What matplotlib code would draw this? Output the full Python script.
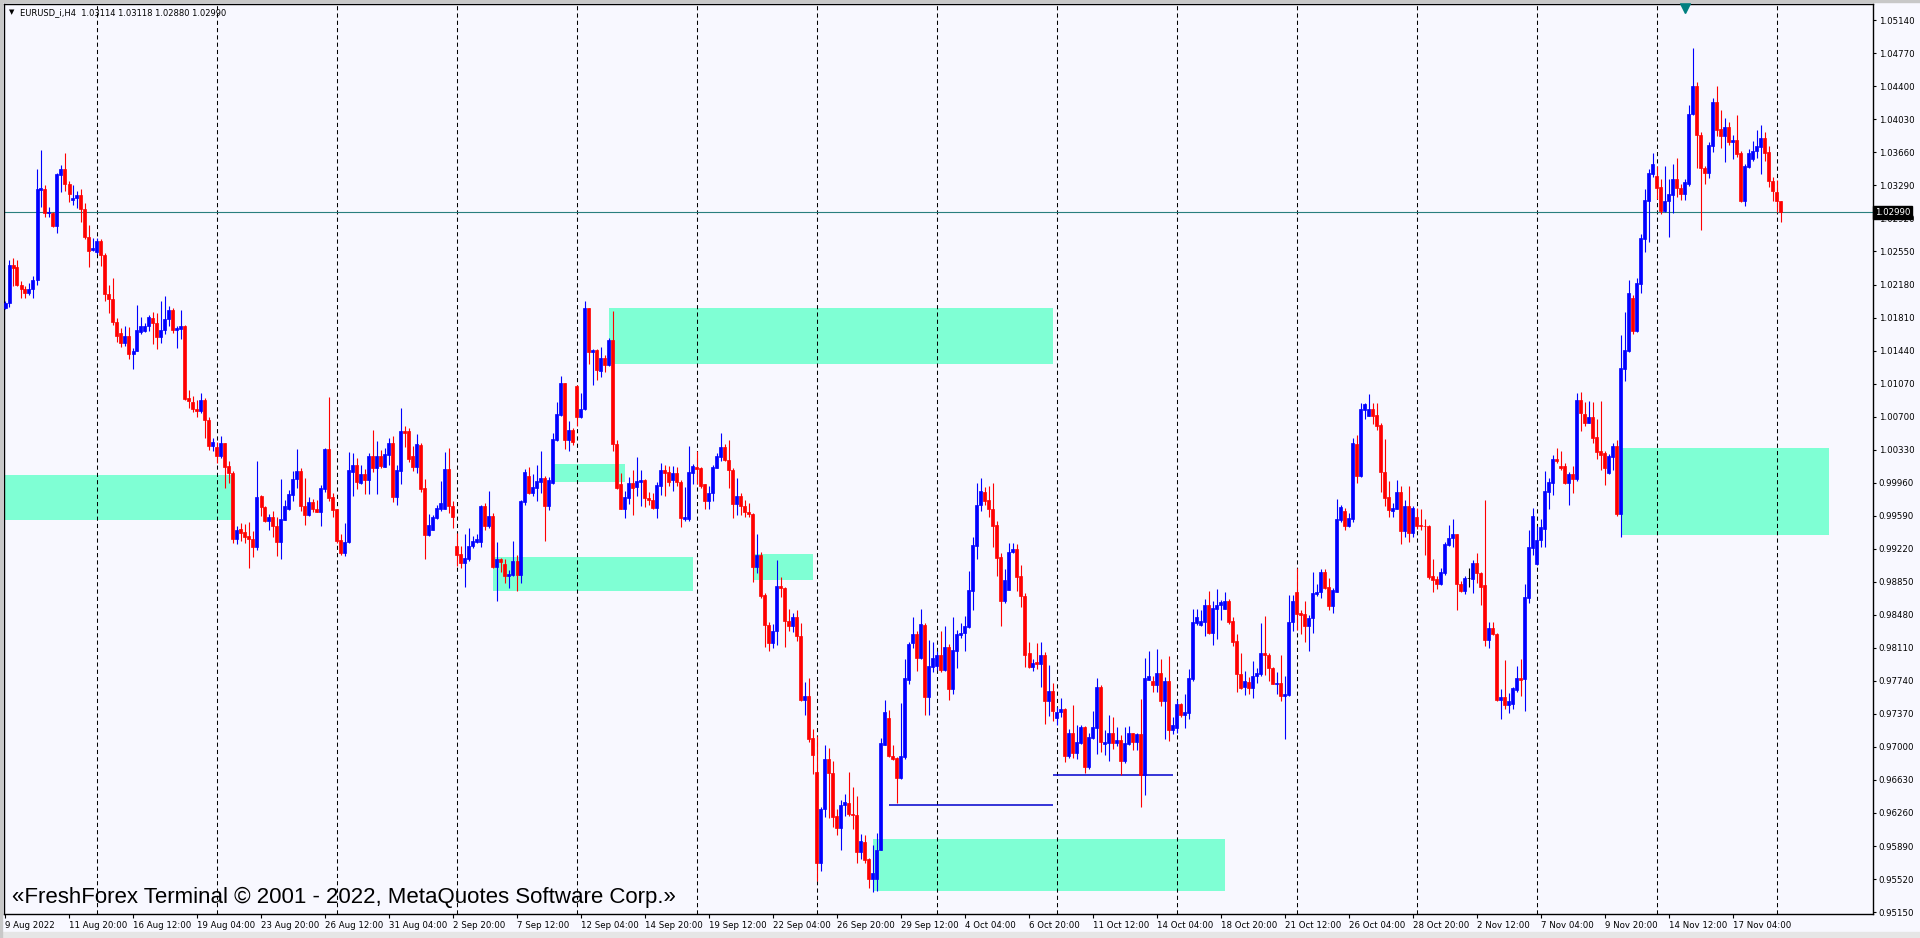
import numpy as np
import pandas as pd
import matplotlib
matplotlib.use("Agg")
import matplotlib.pyplot as plt
from matplotlib import transforms

symbol_title = "EURUSD_i,H4  1.03114 1.03118 1.02880 1.02990"
copyright_text = "«FreshForex Terminal © 2001 - 2022, MetaQuotes Software Corp.»"
first_bar = "2022-08-09 04:00"
last_price = 1.02990

# H4 candles, prices in pips (x 1e-4)
opens = [
    10192, 10197, 10240, 10238, 10218, 10213, 10208, 10213, 10223, 10324, 10325, 10298, 10298, 10283, 10341,
    10347, 10331, 10313, 10315, 10318, 10303, 10271, 10257, 10254, 10267, 10251, 10207, 10202, 10176, 10164,
    10153, 10160, 10140, 10144, 10165, 10166, 10171, 10181, 10175, 10159, 10167, 10179, 10189, 10167, 10168,
    10172, 10091, 10086, 10079, 10076, 10089, 10066, 10037, 10036, 10026, 10040, 10015, 10007, 9933, 9944,
    9941, 9936, 9933, 9924, 9981, 9969, 9953, 9958, 9947, 9929, 9954, 9966, 9982, 10000, 10009,
    9970, 9960, 9974, 9967, 9963, 9989, 10034, 9980, 9966, 9932, 9917, 9930, 10008, 10016, 9996,
    10006, 9999, 10026, 10012, 10026, 10014, 10027, 10041, 9980, 10009, 10054, 10054, 10026, 10014, 10038,
    9990, 9937, 9943, 9956, 9967, 9967, 10011, 9970, 9925, 9916, 9906, 9911, 9925, 9930, 9929,
    9970, 9947, 9959, 9902, 9910, 9905, 9891, 9893, 9908, 9893, 9974, 10004, 9985, 9990, 9997,
    10001, 9970, 9996, 10044, 10072, 10108, 10044, 10055, 10104, 10070, 10078, 10192, 10142, 10145, 10121,
    10136, 10128, 10156, 10039, 9995, 9967, 9979, 9996, 9991, 9997, 9999, 9979, 9977, 9968, 9992,
    10010, 10008, 9999, 10007, 9997, 9955, 9955, 10007, 10014, 10013, 9994, 9976, 9985, 10013, 10025,
    10036, 10021, 10010, 9972, 9981, 9970, 9963, 9961, 9902, 9915, 9870, 9837, 9816, 9830, 9880,
    9878, 9841, 9835, 9845, 9824, 9753, 9757, 9710, 9672, 9570, 9630, 9686, 9671, 9623, 9609,
    9635, 9637, 9625, 9624, 9582, 9593, 9574, 9552, 9552, 9585, 9702, 9732, 9690, 9688, 9665,
    9689, 9775, 9816, 9827, 9800, 9837, 9756, 9790, 9791, 9803, 9786, 9812, 9765, 9808, 9825,
    9828, 9834, 9875, 9925, 9971, 9986, 9977, 9967, 9949, 9913, 9863, 9876, 9918, 9922, 9891,
    9869, 9805, 9789, 9795, 9793, 9803, 9751, 9763, 9732, 9739, 9742, 9690, 9716, 9693, 9704,
    9722, 9677, 9710, 9721, 9767, 9703, 9704, 9716, 9704, 9708, 9684, 9703, 9716, 9705, 9714,
    9669, 9775, 9774, 9769, 9783, 9751, 9774, 9719, 9721, 9748, 9736, 9738, 9776, 9839, 9837,
    9840, 9859, 9828, 9855, 9859, 9855, 9863, 9841, 9819, 9782, 9767, 9773, 9766, 9779, 9782,
    9805, 9803, 9788, 9771, 9772, 9757, 9758, 9840, 9873, 9850, 9849, 9835, 9844, 9871, 9874,
    9896, 9879, 9858, 9874, 9954, 9964, 9947, 9955, 10039, 10004, 10077, 10071, 10079, 10072, 10061,
    10008, 9980, 9964, 9967, 9986, 9942, 9970, 9940, 9958, 9949, 9948, 9948, 9892, 9888, 9882,
    9895, 9926, 9934, 9938, 9883, 9875, 9889, 9888, 9906, 9895, 9881, 9820, 9833, 9827, 9753,
    9756, 9747, 9748, 9764, 9777, 9776, 9867, 9923, 9905, 9932, 9944, 9986, 9996, 10023, 10015,
    10015, 9996, 10006, 10000, 10089, 10073, 10063, 10070, 10047, 10031, 10029, 10007, 10025, 10037, 9961,
    10123, 10144, 10203, 10166, 10219, 10269, 10312, 10342, 10339, 10327, 10300, 10311, 10318, 10336, 10326,
    10319, 10331, 10409, 10440, 10386, 10349, 10343, 10373, 10422, 10392, 10384, 10394, 10378, 10380, 10365,
    10312, 10350, 10359, 10367, 10372, 10382, 10366, 10334, 10322, 10311,
]
highs = [
    10199, 10246, 10248, 10245, 10222, 10216, 10220, 10227, 10347, 10369, 10329, 10305, 10299, 10343, 10352,
    10365, 10334, 10329, 10323, 10325, 10309, 10285, 10270, 10270, 10269, 10253, 10218, 10225, 10180, 10169,
    10171, 10170, 10147, 10195, 10182, 10175, 10184, 10187, 10186, 10200, 10205, 10194, 10192, 10171, 10189,
    10173, 10100, 10093, 10089, 10097, 10091, 10070, 10046, 10042, 10048, 10041, 10020, 10009, 9948, 9951,
    9950, 9952, 9942, 10020, 9982, 9970, 9961, 9964, 9958, 10000, 9977, 9988, 10009, 10034, 10012,
    10001, 9980, 9978, 9977, 9993, 10035, 10092, 9984, 9967, 9939, 9951, 10030, 10029, 10024, 10016,
    10011, 10029, 10055, 10043, 10033, 10035, 10046, 10048, 10016, 10080, 10059, 10057, 10037, 10050, 10040,
    10000, 9961, 9960, 9971, 9998, 10030, 10035, 9975, 9940, 9925, 9939, 9945, 9936, 9938, 9971,
    9973, 9987, 9962, 9930, 9912, 9910, 9898, 9931, 9915, 9977, 10011, 10014, 10006, 10016, 10031,
    10003, 10002, 10052, 10086, 10115, 10108, 10065, 10057, 10105, 10097, 10199, 10192, 10146, 10146, 10148,
    10139, 10158, 10188, 10044, 10007, 9987, 10002, 10010, 10025, 10010, 10000, 9986, 9984, 9997, 10018,
    10016, 10015, 10015, 10014, 9999, 9991, 10037, 10017, 10031, 10014, 9995, 9992, 10016, 10029, 10052,
    10039, 10044, 10012, 10001, 9985, 9977, 9973, 9962, 9939, 9918, 9872, 9840, 9838, 9909, 9890,
    9879, 9854, 9850, 9853, 9839, 9773, 9777, 9720, 9712, 9633, 9702, 9699, 9684, 9631, 9641,
    9647, 9672, 9655, 9645, 9603, 9601, 9576, 9590, 9604, 9710, 9753, 9741, 9702, 9689, 9749,
    9799, 9818, 9845, 9830, 9855, 9839, 9820, 9817, 9808, 9830, 9836, 9815, 9846, 9831, 9839,
    9847, 9897, 9935, 9996, 10001, 9991, 9992, 9996, 9953, 9917, 9899, 9928, 9928, 9927, 9904,
    9872, 9817, 9799, 9816, 9818, 9806, 9792, 9772, 9745, 9755, 9744, 9720, 9747, 9724, 9724,
    9723, 9716, 9740, 9777, 9769, 9719, 9736, 9734, 9722, 9713, 9722, 9723, 9716, 9716, 9754,
    9800, 9808, 9780, 9810, 9799, 9778, 9802, 9734, 9753, 9749, 9759, 9787, 9854, 9854, 9853,
    9866, 9875, 9863, 9877, 9865, 9874, 9866, 9845, 9826, 9805, 9785, 9778, 9796, 9788, 9839,
    9847, 9805, 9790, 9784, 9803, 9779, 9870, 9870, 9900, 9853, 9863, 9848, 9896, 9883, 9899,
    9899, 9889, 9878, 9978, 9971, 9968, 9962, 10046, 10049, 10085, 10085, 10095, 10085, 10085, 10063,
    10045, 9998, 9973, 9999, 9992, 9977, 9992, 9970, 9968, 9967, 9955, 9949, 9910, 9891, 9900,
    9929, 9949, 9955, 9939, 9886, 9891, 9900, 9909, 9917, 9896, 9977, 9840, 9840, 9828, 9765,
    9797, 9760, 9767, 9791, 9799, 9883, 9943, 9968, 9947, 9955, 10009, 10001, 10027, 10035, 10032,
    10018, 10008, 10015, 10096, 10098, 10086, 10088, 10086, 10067, 10088, 10032, 10028, 10040, 10044, 10161,
    10187, 10223, 10206, 10225, 10275, 10325, 10347, 10365, 10351, 10336, 10351, 10336, 10353, 10360, 10331,
    10336, 10419, 10483, 10445, 10389, 10351, 10378, 10427, 10440, 10414, 10405, 10400, 10385, 10408, 10368,
    10353, 10370, 10379, 10391, 10397, 10389, 10373, 10338, 10335, 10312,
]
lows = [
    10190, 10193, 10216, 10216, 10203, 10203, 10206, 10203, 10218, 10305, 10294, 10294, 10282, 10276, 10322,
    10323, 10310, 10307, 10304, 10288, 10269, 10238, 10255, 10252, 10239, 10200, 10186, 10173, 10154, 10148,
    10149, 10135, 10123, 10143, 10162, 10165, 10166, 10151, 10146, 10153, 10163, 10171, 10164, 10147, 10157,
    10089, 10080, 10075, 10070, 10074, 10046, 10033, 10032, 10018, 10024, 9990, 9996, 9928, 9927, 9931,
    9928, 9900, 9913, 9921, 9959, 9952, 9943, 9935, 9914, 9910, 9954, 9965, 9976, 9990, 9964,
    9949, 9959, 9963, 9963, 9947, 9986, 9976, 9957, 9928, 9915, 9914, 9928, 9981, 9989, 9994,
    9983, 9983, 10008, 9983, 10013, 10014, 10016, 9974, 9971, 9995, 10036, 10019, 10009, 10007, 9986,
    9911, 9936, 9943, 9955, 9964, 9966, 9962, 9945, 9903, 9900, 9879, 9908, 9923, 9928, 9924,
    9943, 9945, 9900, 9864, 9896, 9884, 9878, 9892, 9875, 9884, 9971, 9983, 9981, 9976, 9984,
    9931, 9965, 9995, 10043, 10071, 10034, 10032, 10038, 10059, 10069, 10077, 10129, 10105, 10111, 10114,
    10120, 10127, 10031, 9989, 9966, 9956, 9972, 9960, 9981, 9970, 9969, 9971, 9967, 9956, 9982,
    9981, 9992, 9987, 9992, 9946, 9953, 9953, 9994, 9994, 9990, 9966, 9967, 9976, 10012, 10020,
    10020, 9990, 9956, 9960, 9960, 9957, 9957, 9885, 9895, 9867, 9812, 9808, 9811, 9814, 9868,
    9812, 9830, 9829, 9819, 9752, 9736, 9706, 9670, 9550, 9561, 9621, 9620, 9610, 9601, 9585,
    9623, 9623, 9608, 9570, 9575, 9570, 9542, 9538, 9539, 9584, 9702, 9689, 9685, 9637, 9664,
    9687, 9771, 9811, 9785, 9799, 9736, 9736, 9784, 9786, 9784, 9785, 9753, 9759, 9788, 9822,
    9807, 9833, 9853, 9910, 9964, 9971, 9958, 9924, 9892, 9835, 9861, 9876, 9917, 9875, 9857,
    9790, 9788, 9785, 9787, 9767, 9726, 9735, 9729, 9724, 9734, 9683, 9688, 9688, 9687, 9703,
    9671, 9675, 9709, 9692, 9694, 9691, 9684, 9698, 9701, 9669, 9682, 9702, 9696, 9697, 9633,
    9646, 9775, 9762, 9761, 9746, 9709, 9707, 9715, 9716, 9733, 9721, 9731, 9774, 9837, 9836,
    9824, 9827, 9814, 9821, 9842, 9854, 9838, 9813, 9761, 9765, 9758, 9759, 9755, 9772, 9780,
    9781, 9774, 9770, 9759, 9752, 9709, 9757, 9830, 9831, 9826, 9817, 9807, 9828, 9869, 9867,
    9877, 9853, 9850, 9873, 9952, 9943, 9946, 9952, 9996, 10002, 10067, 10071, 10062, 10055, 9986,
    9970, 9958, 9958, 9966, 9927, 9935, 9929, 9935, 9944, 9943, 9915, 9888, 9873, 9877, 9881,
    9893, 9925, 9924, 9853, 9873, 9871, 9879, 9872, 9884, 9859, 9813, 9811, 9825, 9751, 9731,
    9743, 9738, 9742, 9761, 9757, 9740, 9861, 9915, 9904, 9924, 9924, 9966, 9982, 10018, 10010,
    9995, 9971, 9984, 9998, 10054, 10059, 10063, 10040, 10022, 10010, 9993, 10006, 10010, 9959, 9935,
    10110, 10142, 10163, 10165, 10208, 10254, 10266, 10338, 10314, 10297, 10299, 10271, 10298, 10316, 10313,
    10313, 10328, 10408, 10348, 10279, 10331, 10337, 10366, 10384, 10371, 10355, 10374, 10359, 10361, 10310,
    10306, 10348, 10356, 10360, 10342, 10356, 10327, 10312, 10299, 10288,
]
closes = [
    10197, 10240, 10237, 10218, 10213, 10208, 10213, 10223, 10325, 10326, 10298, 10299, 10283, 10342, 10347,
    10331, 10319, 10315, 10318, 10303, 10271, 10256, 10259, 10267, 10251, 10207, 10202, 10176, 10160, 10153,
    10160, 10140, 10144, 10167, 10172, 10172, 10182, 10175, 10159, 10167, 10179, 10189, 10167, 10169, 10172,
    10090, 10087, 10079, 10076, 10089, 10066, 10037, 10042, 10026, 10040, 10014, 10007, 9933, 9943, 9940,
    9935, 9933, 9924, 9980, 9969, 9953, 9958, 9947, 9929, 9955, 9970, 9983, 10000, 10009, 9970,
    9960, 9974, 9967, 9963, 9990, 10034, 9979, 9965, 9931, 9917, 9929, 10010, 10016, 9997, 10006,
    9999, 10026, 10012, 10026, 10015, 10028, 10040, 9980, 10010, 10054, 10052, 10023, 10014, 10039, 9989,
    9937, 9949, 9957, 9968, 9973, 10011, 9970, 9957, 9915, 9906, 9912, 9925, 9931, 9933, 9970,
    9947, 9959, 9902, 9910, 9907, 9891, 9894, 9908, 9893, 9975, 10008, 9985, 9991, 9998, 10001,
    9970, 9999, 10045, 10073, 10108, 10044, 10055, 10042, 10070, 10079, 10192, 10142, 10145, 10122, 10136,
    10128, 10156, 10039, 9990, 9967, 9980, 9996, 9990, 9998, 9999, 9979, 9977, 9968, 9993, 10010,
    10007, 9997, 10007, 9997, 9956, 9957, 10008, 10015, 10011, 9992, 9976, 9985, 10014, 10026, 10036,
    10021, 10010, 9972, 9981, 9970, 9963, 9961, 9902, 9915, 9869, 9837, 9816, 9830, 9880, 9878,
    9841, 9835, 9845, 9824, 9753, 9757, 9709, 9691, 9570, 9630, 9686, 9671, 9622, 9609, 9635,
    9638, 9625, 9624, 9582, 9595, 9573, 9552, 9559, 9585, 9704, 9739, 9690, 9687, 9665, 9690,
    9777, 9815, 9827, 9800, 9838, 9756, 9791, 9800, 9803, 9786, 9812, 9765, 9809, 9826, 9828,
    9835, 9876, 9926, 9971, 9987, 9976, 9967, 9948, 9912, 9863, 9887, 9918, 9922, 9890, 9869,
    9803, 9790, 9794, 9793, 9803, 9751, 9763, 9740, 9739, 9742, 9690, 9716, 9693, 9705, 9722,
    9677, 9711, 9722, 9767, 9705, 9705, 9716, 9704, 9708, 9684, 9704, 9716, 9705, 9714, 9669,
    9777, 9779, 9769, 9783, 9751, 9774, 9719, 9725, 9748, 9736, 9739, 9777, 9840, 9846, 9841,
    9859, 9828, 9856, 9859, 9862, 9863, 9840, 9818, 9782, 9766, 9774, 9766, 9780, 9783, 9805,
    9803, 9788, 9771, 9772, 9757, 9759, 9840, 9863, 9849, 9848, 9835, 9844, 9872, 9874, 9896,
    9878, 9858, 9876, 9955, 9969, 9947, 9956, 10040, 10004, 10078, 10084, 10079, 10071, 10060, 10008,
    9979, 9965, 9968, 9986, 9942, 9970, 9940, 9968, 9948, 9948, 9947, 9890, 9887, 9882, 9896,
    9927, 9934, 9938, 9882, 9875, 9889, 9889, 9906, 9895, 9879, 9820, 9833, 9826, 9753, 9756,
    9747, 9752, 9766, 9777, 9775, 9868, 9924, 9959, 9932, 9946, 9987, 9997, 10023, 10020, 10013,
    9996, 10006, 10000, 10089, 10074, 10063, 10070, 10046, 10030, 10027, 10012, 10026, 10037, 9961, 10124,
    10145, 10209, 10166, 10220, 10270, 10313, 10343, 10353, 10326, 10300, 10312, 10319, 10336, 10326, 10319,
    10333, 10409, 10440, 10385, 10348, 10343, 10374, 10422, 10391, 10384, 10394, 10378, 10380, 10364, 10312,
    10351, 10365, 10368, 10373, 10382, 10365, 10334, 10323, 10312, 10299,
]

x_labels = ["9 Aug 2022", "11 Aug 20:00", "16 Aug 12:00", "19 Aug 04:00", "23 Aug 20:00",
            "26 Aug 12:00", "31 Aug 04:00", "2 Sep 20:00", "7 Sep 12:00", "12 Sep 04:00",
            "14 Sep 20:00", "19 Sep 12:00", "22 Sep 04:00", "26 Sep 20:00", "29 Sep 12:00",
            "4 Oct 04:00", "6 Oct 20:00", "11 Oct 12:00", "14 Oct 04:00", "18 Oct 20:00",
            "21 Oct 12:00", "26 Oct 04:00", "28 Oct 20:00", "2 Nov 12:00", "7 Nov 04:00",
            "9 Nov 20:00", "14 Nov 12:00", "17 Nov 04:00"]

# price scale ticks
y_first, y_step, y_count = 0.95150, 0.0037, 28

# rectangles: (from bar, to bar, low, high)
zones = [(-5, 57, 0.99539, 1.00050),
         (151, 262, 1.01285, 1.01922),
         (137, 155, 0.99964, 1.00173),
         (122, 172, 0.98744, 0.99124),
         (187, 202, 0.98867, 0.99160),
         (217, 305, 0.95390, 0.95966),
         (404, 456, 0.99372, 1.00353)]
# horizontal level segments: (from bar, to bar, price)
levels = [(221, 262, 0.96354), (262, 292, 0.96690)]
shift_bar = 420

o = np.array(opens) / 1e4
h = np.array(highs) / 1e4
l = np.array(lows) / 1e4
c = np.array(closes) / 1e4
h = np.maximum(h, np.maximum(o, c))
l = np.minimum(l, np.minimum(o, c))
n = len(c)
x = np.arange(n)

# bar times (weekday H4 bars)
days = pd.bdate_range(first_bar[:10], periods=110)
stamps = [d + pd.Timedelta(hours=hh) for d in days for hh in range(0, 24, 4)]
times = pd.DatetimeIndex([t for t in stamps if t >= pd.Timestamp(first_bar)][:n])

tick_pos = []
for lab in x_labels:
    if ":" in lab:
        ts = pd.to_datetime(lab + " 2022", format="%d %b %H:%M %Y")
    else:
        ts = pd.to_datetime(lab, format="%d %b %Y")
    tick_pos.append(int(times.searchsorted(ts)))
mondays = np.where((times.dayofweek == 0) & (times.hour == 0))[0]

W, H = 1920, 938
bg = "#F8F8FF"
fig = plt.figure(figsize=(W / 100, H / 100), dpi=100, facecolor=bg)
ax = fig.add_axes([4 / W, (H - 914) / H, (1873 - 4) / W, (914 - 4) / H])
ax.set_facecolor(bg)

ax.set_xlim(-0.25, 467)
ax.set_ylim(0.951284, 1.053222)

for x0, x1, lo, hi in zones:
    ax.fill_between([x0, x1], lo, hi, color="#7FFFD4", linewidth=0, zorder=1)

for m in mondays:
    ax.axvline(m, color="black", lw=0.75, ls=(0, (4, 3)), zorder=2)

ax.axhline(last_price, color="#2A7F7F", lw=0.8, zorder=2.5)

for x0, x1, p in levels:
    ax.hlines(p, x0, x1, color="#0000CD", lw=1.1, zorder=2.6)

cols = np.where(c > o, "#0000FF", np.where(c < o, "#FF0000", "#000000"))
ax.vlines(x, l, h, colors=cols, linewidth=0.8, zorder=3)
ax.bar(x, np.abs(c - o), bottom=np.minimum(o, c), width=0.75, color=cols,
       edgecolor=cols, linewidth=0.5, zorder=4)

# axes look
for s in ax.spines.values():
    s.set_color("black")
    s.set_linewidth(1)
ax.yaxis.tick_right()
yt = np.round(y_first + y_step * np.arange(y_count), 5)
ax.set_yticks(yt)
ax.set_yticklabels([f"{v:.5f}" for v in yt])
ax.tick_params(axis="y", direction="out", length=2.5, width=0.8, pad=1.5,
               labelsize=6.2, colors="black")
ax.set_xticks(tick_pos)
ax.set_xticklabels(x_labels, ha="left")
ax.tick_params(axis="x", direction="out", length=3, width=0.8, pad=2,
               labelsize=6.2, colors="black")

# current price box
tr = transforms.blended_transform_factory(ax.transAxes, ax.transData)
ax.text(1.0012, last_price, f"{last_price:.5f}", transform=tr, color="white",
        fontsize=6.2, va="center", ha="left", zorder=10, clip_on=False,
        bbox=dict(facecolor="black", edgecolor="black", pad=1.3))

# chart shift marker at top
ax.plot([shift_bar], [1 - 4 / 910], marker="v", color="#008080", markersize=7,
        transform=transforms.blended_transform_factory(ax.transData, ax.transAxes),
        clip_on=False, zorder=10)

fig.text(12 / W, 1 - 12.5 / H, "▼", fontsize=5, ha="center", va="center")
fig.text(20 / W, 1 - 12.5 / H, symbol_title, fontsize=6.0, ha="left", va="center")
fig.text(12 / W, 1 - 897 / H, copyright_text, fontsize=16,
         family="Liberation Sans", ha="left", va="center")

# window borders
fig.patches.append(plt.Rectangle((0, 1 - 2 / H), 1, 2 / H, transform=fig.transFigure,
                                 color="#C8C8C8", zorder=0))
fig.patches.append(plt.Rectangle((0, 0), 1, 6 / H, transform=fig.transFigure,
                                 color="#E6E6E6", zorder=0))
fig.patches.append(plt.Rectangle((0, 0), 2 / W, 1, transform=fig.transFigure,
                                 color="#C8C8C8", zorder=0))

fig.savefig("out.png", dpi=100, facecolor=bg)
